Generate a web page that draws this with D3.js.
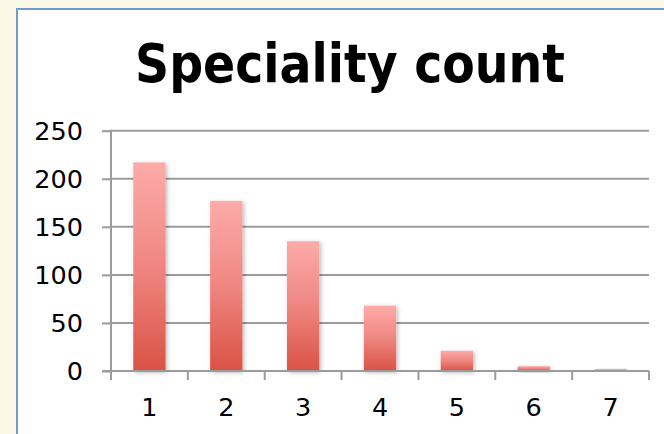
<!DOCTYPE html>
<html>
<head>
<meta charset="utf-8">
<script src="https://cdn.jsdelivr.net/npm/d3@7"></script>
<style>
  html, body { margin: 0; padding: 0; background: #FBF7E6; }
  svg { display: block; }
</style>
</head>
<body>
<svg id="chart" width="664" height="434"></svg>
<script>
// Chart data
const categories = ["1", "2", "3", "4", "5", "6", "7"];
const counts = [217, 177, 135, 68, 21, 5, 2];
const yTicks = [0, 50, 100, 150, 200, 250];
const title = "Speciality count";

const svg = d3.select("#chart");
const W = 664, H = 434;

// White chart panel with blue frame (runs off right and bottom edges)
svg.append("rect")
  .attr("x", 17).attr("y", 9)
  .attr("width", W).attr("height", H)
  .attr("fill", "#ffffff")
  .attr("stroke", "#6F9BD0")
  .attr("stroke-width", 2);

const defs = svg.append("defs");
const grad = defs.append("linearGradient")
  .attr("id", "barFill")
  .attr("x1", 0).attr("y1", 0).attr("x2", 0).attr("y2", 1);
grad.append("stop").attr("offset", "0%").attr("stop-color", "#FDABA9");
grad.append("stop").attr("offset", "50%").attr("stop-color", "#EF8680");
grad.append("stop").attr("offset", "100%").attr("stop-color", "#DA5245");

const shadow = defs.append("filter")
  .attr("id", "barShadow")
  .attr("x", "-30%").attr("y", "-30%").attr("width", "160%").attr("height", "160%");
shadow.append("feDropShadow")
  .attr("dx", 1.5).attr("dy", 1.5).attr("stdDeviation", 2)
  .attr("flood-color", "#000").attr("flood-opacity", 0.28);

// Plot geometry
const plotLeft = 111, plotRight = 649, plotTop = 130.7, plotBottom = 371;

const x = d3.scaleBand()
  .domain(categories)
  .range([plotLeft, plotRight])
  .paddingInner(0.58)
  .paddingOuter(0.29);

const y = d3.scaleLinear()
  .domain([0, 250])
  .range([plotBottom, plotTop]);

const gridColor = "#9B9B9B";
const labelFont = "DejaVu Sans, Verdana, sans-serif";

// Horizontal gridlines
svg.append("g")
  .selectAll("line")
  .data(yTicks.filter(d => d > 0))
  .join("line")
  .attr("x1", plotLeft).attr("x2", plotRight)
  .attr("y1", d => y(d)).attr("y2", d => y(d))
  .attr("stroke", gridColor)
  .attr("stroke-width", 2);

// Y axis
const yAxis = svg.append("g")
  .attr("transform", `translate(${plotLeft},0)`)
  .call(d3.axisLeft(y).tickValues(yTicks).tickSize(9).tickPadding(19).tickSizeOuter(0));
yAxis.select(".domain").remove();
yAxis.selectAll(".tick line").attr("stroke", gridColor).attr("stroke-width", 2);
yAxis.selectAll(".tick text")
  .attr("font-family", labelFont)
  .attr("font-size", 25.5)
  .attr("dy", "0.34em")
  .attr("fill", "#000");
svg.append("line")
  .attr("x1", plotLeft).attr("x2", plotLeft)
  .attr("y1", plotTop - 1).attr("y2", plotBottom + 9)
  .attr("stroke", gridColor).attr("stroke-width", 2);

// Bars
svg.append("g")
  .selectAll("rect")
  .data(counts)
  .join("rect")
  .attr("x", (d, i) => x(categories[i]))
  .attr("y", d => y(d))
  .attr("width", x.bandwidth())
  .attr("height", d => plotBottom - y(d))
  .attr("fill", "url(#barFill)")
  .attr("filter", "url(#barShadow)");

// X axis: baseline and boundary ticks
svg.append("line")
  .attr("x1", plotLeft - 9).attr("x2", plotRight)
  .attr("y1", plotBottom).attr("y2", plotBottom)
  .attr("stroke", gridColor).attr("stroke-width", 2);

const step = x.step();
const boundaries = d3.range(categories.length + 1).map(i => plotLeft + i * step);
svg.append("g")
  .selectAll("line")
  .data(boundaries)
  .join("line")
  .attr("x1", d => d).attr("x2", d => d)
  .attr("y1", plotBottom).attr("y2", plotBottom + 9)
  .attr("stroke", gridColor).attr("stroke-width", 2);

svg.append("g")
  .selectAll("text")
  .data(categories)
  .join("text")
  .attr("x", d => x(d) + x.bandwidth() / 2)
  .attr("y", 416)
  .attr("text-anchor", "middle")
  .attr("font-family", labelFont)
  .attr("font-size", 25.5)
  .attr("fill", "#000")
  .text(d => d);

// Title
svg.append("text")
  .attr("x", 350)
  .attr("y", 82)
  .attr("text-anchor", "middle")
  .attr("font-family", labelFont)
  .attr("font-weight", "bold")
  .attr("font-size", 53)
  .attr("textLength", 430)
  .attr("lengthAdjust", "spacingAndGlyphs")
  .attr("fill", "#000")
  .text(title);
</script>
</body>
</html>
